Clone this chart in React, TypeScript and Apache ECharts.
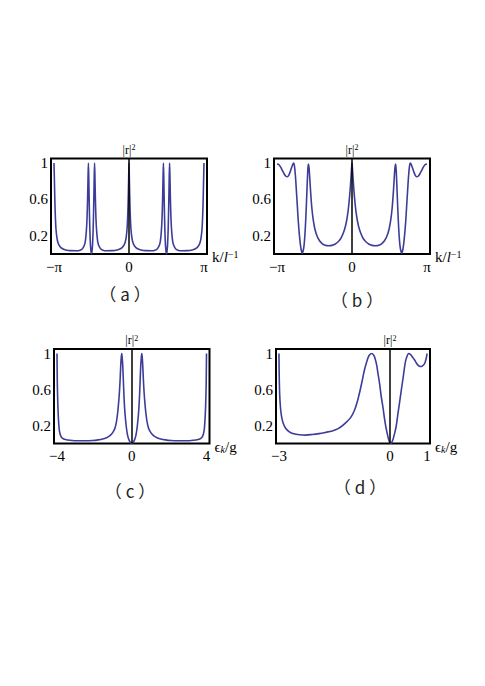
import React, { useEffect, useRef } from "react";
import * as echarts from "echarts";

const PI = Math.PI;

// ---- Data ----
// Panel (a): |r|^2 vs k (units l^-1)
const curveA: [number, number][] = [
  [-3.1416, 1.0], [-3.125, 0.82], [-3.11, 0.64], [-3.09, 0.45], [-3.06, 0.28], [-3.02, 0.18],
  [-2.97, 0.12], [-2.9, 0.085], [-2.8, 0.06], [-2.65, 0.045], [-2.45, 0.037], [-2.2, 0.036],
  [-2.05, 0.042], [-1.95, 0.058], [-1.88, 0.09], [-1.83, 0.14], [-1.79, 0.24], [-1.76, 0.38],
  [-1.735, 0.6], [-1.715, 0.85], [-1.7, 1.0], [-1.685, 0.85], [-1.665, 0.55], [-1.64, 0.27],
  [-1.615, 0.1], [-1.59, 0.025], [-1.571, 0.0], [-1.552, 0.025], [-1.527, 0.1], [-1.502, 0.27],
  [-1.477, 0.55], [-1.457, 0.85], [-1.442, 1.0], [-1.427, 0.85], [-1.407, 0.6], [-1.382, 0.38],
  [-1.352, 0.24], [-1.312, 0.14], [-1.262, 0.09], [-1.19, 0.058], [-1.09, 0.042], [-0.94, 0.036],
  [-0.7, 0.037], [-0.5, 0.045], [-0.34, 0.06], [-0.24, 0.085], [-0.17, 0.12], [-0.12, 0.18],
  [-0.08, 0.28], [-0.05, 0.45], [-0.03, 0.64], [-0.015, 0.82], [0, 1.0],
  [0.015, 0.82], [0.03, 0.64], [0.05, 0.45], [0.08, 0.28], [0.12, 0.18], [0.17, 0.12],
  [0.24, 0.085], [0.34, 0.06], [0.5, 0.045], [0.7, 0.037], [0.94, 0.036], [1.09, 0.042],
  [1.19, 0.058], [1.262, 0.09], [1.312, 0.14], [1.352, 0.24], [1.382, 0.38], [1.407, 0.6],
  [1.427, 0.85], [1.442, 1.0], [1.457, 0.85], [1.477, 0.55], [1.502, 0.27], [1.527, 0.1],
  [1.552, 0.025], [1.571, 0.0], [1.59, 0.025], [1.615, 0.1], [1.64, 0.27], [1.665, 0.55],
  [1.685, 0.85], [1.7, 1.0], [1.715, 0.85], [1.735, 0.6], [1.76, 0.38], [1.79, 0.24],
  [1.83, 0.14], [1.88, 0.09], [1.95, 0.058], [2.05, 0.042], [2.2, 0.036], [2.45, 0.037],
  [2.65, 0.045], [2.8, 0.06], [2.9, 0.085], [2.97, 0.12], [3.02, 0.18], [3.06, 0.28],
  [3.09, 0.45], [3.11, 0.64], [3.125, 0.82], [3.1416, 1.0],
];

// Panel (b)
const curveB: [number, number][] = [
  [-3.1416, 0.99], [-3.08, 0.985], [-3.0, 0.96], [-2.92, 0.92], [-2.84, 0.88], [-2.77, 0.855],
  [-2.71, 0.85], [-2.65, 0.865], [-2.58, 0.91], [-2.51, 0.965], [-2.45, 1.0], [-2.41, 0.97],
  [-2.37, 0.86], [-2.33, 0.7], [-2.29, 0.53], [-2.25, 0.36], [-2.2, 0.2], [-2.15, 0.08],
  [-2.11, 0.025], [-2.08, 0.01], [-2.05, 0.03], [-2.01, 0.09], [-1.97, 0.22], [-1.93, 0.42],
  [-1.89, 0.68], [-1.855, 0.9], [-1.83, 0.99], [-1.8, 0.95], [-1.77, 0.84], [-1.73, 0.67],
  [-1.68, 0.5], [-1.62, 0.37], [-1.55, 0.27], [-1.46, 0.195], [-1.36, 0.145], [-1.25, 0.115],
  [-1.12, 0.095], [-0.98, 0.09], [-0.84, 0.095], [-0.7, 0.11], [-0.58, 0.135], [-0.47, 0.17],
  [-0.38, 0.22], [-0.3, 0.28], [-0.23, 0.36], [-0.17, 0.46], [-0.12, 0.58], [-0.08, 0.7],
  [-0.045, 0.83], [-0.02, 0.93], [0, 1.0],
  [0.02, 0.93], [0.045, 0.83], [0.08, 0.7], [0.12, 0.58], [0.17, 0.46], [0.23, 0.36],
  [0.3, 0.28], [0.38, 0.22], [0.47, 0.17], [0.58, 0.135], [0.7, 0.11], [0.84, 0.095],
  [0.98, 0.09], [1.12, 0.095], [1.25, 0.115], [1.36, 0.145], [1.46, 0.195], [1.55, 0.27],
  [1.62, 0.37], [1.68, 0.5], [1.73, 0.67], [1.77, 0.84], [1.8, 0.95], [1.83, 0.99],
  [1.855, 0.9], [1.89, 0.68], [1.93, 0.42], [1.97, 0.22], [2.01, 0.09], [2.05, 0.03],
  [2.08, 0.01], [2.11, 0.025], [2.15, 0.08], [2.2, 0.2], [2.25, 0.36], [2.29, 0.53],
  [2.33, 0.7], [2.37, 0.86], [2.41, 0.97], [2.45, 1.0], [2.51, 0.965], [2.58, 0.91],
  [2.65, 0.865], [2.71, 0.85], [2.77, 0.855], [2.84, 0.88], [2.92, 0.92], [3.0, 0.96],
  [3.08, 0.985], [3.1416, 0.99],
];

// Panel (c): |r|^2 vs eps_k/g
const curveC: [number, number][] = [
  [-4.0, 1.0], [-3.99, 0.8], [-3.98, 0.64], [-3.96, 0.47], [-3.94, 0.35], [-3.91, 0.23],
  [-3.87, 0.14], [-3.8, 0.085], [-3.7, 0.058], [-3.55, 0.045], [-3.3, 0.036], [-2.9, 0.03],
  [-2.5, 0.03], [-2.1, 0.033], [-1.8, 0.04], [-1.55, 0.05], [-1.35, 0.065], [-1.2, 0.082],
  [-1.08, 0.105], [-0.98, 0.135], [-0.9, 0.17], [-0.82, 0.24], [-0.75, 0.35], [-0.7, 0.46],
  [-0.66, 0.57], [-0.62, 0.72], [-0.59, 0.86], [-0.56, 0.96], [-0.535, 1.0], [-0.51, 0.95],
  [-0.48, 0.86], [-0.44, 0.65], [-0.41, 0.5], [-0.36, 0.33], [-0.3, 0.2], [-0.24, 0.11],
  [-0.18, 0.057], [-0.1, 0.02], [0, 0.0],
  [0.1, 0.02], [0.18, 0.057], [0.24, 0.11], [0.3, 0.2], [0.36, 0.33], [0.41, 0.5],
  [0.44, 0.65], [0.48, 0.86], [0.51, 0.95], [0.535, 1.0], [0.56, 0.96], [0.59, 0.86],
  [0.62, 0.72], [0.66, 0.57], [0.7, 0.46], [0.75, 0.35], [0.82, 0.24], [0.9, 0.17],
  [0.98, 0.135], [1.08, 0.105], [1.2, 0.082], [1.35, 0.065], [1.55, 0.05], [1.8, 0.04],
  [2.1, 0.033], [2.5, 0.03], [2.9, 0.03], [3.3, 0.036], [3.55, 0.045], [3.7, 0.058],
  [3.8, 0.085], [3.87, 0.14], [3.91, 0.23], [3.94, 0.35], [3.96, 0.47], [3.98, 0.64],
  [3.99, 0.8], [4.0, 1.0],
];

// Panel (d)
const curveD: [number, number][] = [
  [-3.0, 1.0], [-2.995, 0.8], [-2.985, 0.6], [-2.97, 0.46], [-2.95, 0.36], [-2.92, 0.28],
  [-2.88, 0.22], [-2.82, 0.17], [-2.72, 0.13], [-2.6, 0.108], [-2.45, 0.097], [-2.28, 0.093],
  [-2.1, 0.1], [-1.92, 0.11], [-1.75, 0.123], [-1.56, 0.14], [-1.4, 0.165], [-1.28, 0.2],
  [-1.17, 0.24], [-1.06, 0.29], [-0.96, 0.37], [-0.88, 0.47], [-0.82, 0.57], [-0.75, 0.7],
  [-0.69, 0.82], [-0.62, 0.92], [-0.57, 0.975], [-0.5, 1.0], [-0.44, 0.98], [-0.4, 0.94],
  [-0.36, 0.87], [-0.33, 0.79], [-0.28, 0.66], [-0.24, 0.53], [-0.19, 0.4], [-0.15, 0.28],
  [-0.11, 0.18], [-0.075, 0.11], [-0.04, 0.05], [-0.01, 0.015], [0.02, 0.0], [0.05, 0.015],
  [0.08, 0.045], [0.11, 0.09], [0.14, 0.14], [0.17, 0.2], [0.21, 0.32], [0.26, 0.46],
  [0.3, 0.58], [0.35, 0.72], [0.39, 0.84], [0.42, 0.915], [0.46, 0.97], [0.5, 1.0],
  [0.55, 0.99], [0.6, 0.965], [0.66, 0.93], [0.71, 0.895], [0.77, 0.865], [0.82, 0.855],
  [0.87, 0.86], [0.93, 0.885], [0.96, 0.92], [0.985, 0.96], [1.0, 1.0],
];

const xTicksAB = [-PI, 0, PI];
const xTickLabelsAB = ["−π", "0", "π"];
const xTicksC = [-4, 0, 4];
const xTickLabelsC = ["−4", "0", "4"];
const xTicksD = [-3, 0, 1];
const xTickLabelsD = ["−3", "0", "1"];
const yTicks = [0.2, 0.6, 1];
const yTickLabels = ["0.2", "0.6", "1"];
const panelLetters = ["a", "b", "c", "d"];

// ---- Layout / styling ----
const SERIF = "'Liberation Serif', 'DejaVu Serif', serif";
const CJK = "'Noto Sans CJK SC', 'Noto Sans', sans-serif";
const LINE_COLOR = "#3d3d99";

const grids = [
  { left: 51, top: 158.5, width: 156, height: 95.5 },
  { left: 274, top: 158.5, width: 156, height: 95.5 },
  { left: 54, top: 349, width: 155.5, height: 94.5 },
  { left: 276, top: 349, width: 154, height: 94.5 },
];
const xRanges: [number, number][] = [
  [-3.267, 3.267],
  [-3.267, 3.267],
  [-4.16, 4.16],
  [-3.08, 1.08],
];
const labelPos = [
  [125, 293],
  [357, 299],
  [130, 490],
  [360, 486],
];

const kName = "{n|k/}{i|l}{s|−1}";
const eName = "{n|ϵ}{k|k}{n|/g}";

function lookup(vals: number[], labels: string[]) {
  return (v: number) => {
    for (let i = 0; i < vals.length; i++) {
      if (Math.abs(vals[i] - v) < 1e-6) return labels[i];
    }
    return "";
  };
}

export default function App() {
  const ref = useRef<HTMLDivElement>(null);

  useEffect(() => {
    if (!ref.current) return;
    const chart = echarts.init(ref.current, undefined, { renderer: "svg" });

    const curves = [curveA, curveB, curveC, curveD];
    const xTickSets = [xTicksAB, xTicksAB, xTicksC, xTicksD];
    const xLabelSets = [xTickLabelsAB, xTickLabelsAB, xTickLabelsC, xTickLabelsD];
    const names = [kName, kName, eName, eName];

    const nameRich = {
      n: { fontFamily: SERIF, fontSize: 15, color: "#000" },
      i: { fontFamily: SERIF, fontSize: 15, fontStyle: "italic", color: "#000" },
      s: { fontFamily: SERIF, fontSize: 10, color: "#000", verticalAlign: "top" },
      k: { fontFamily: SERIF, fontSize: 10, fontStyle: "italic", color: "#000", verticalAlign: "bottom" },
    };

    const option: any = {
      animation: false,
      backgroundColor: "#fff",
      color: [LINE_COLOR],
      grid: grids.map((g) => ({
        ...g,
        show: true,
        borderColor: "#000",
        borderWidth: 2,
        backgroundColor: "transparent",
        containLabel: false,
      })),
      xAxis: grids.map((_, i) => ({
        type: "value",
        gridIndex: i,
        min: xRanges[i][0],
        max: xRanges[i][1],
        axisLine: { show: false },
        axisTick: { show: false },
        splitLine: { show: false },
        axisLabel: {
          customValues: xTickSets[i],
          formatter: lookup(xTickSets[i], xLabelSets[i]),
          fontFamily: SERIF,
          fontSize: 15,
          color: "#000",
          margin: 5,
          showMinLabel: true,
          showMaxLabel: true,
        },
        name: names[i],
        nameLocation: "end",
        nameGap: 5,
        nameTextStyle: {
          align: "left",
          verticalAlign: "middle",
          padding: [6, 0, 0, 0],
          rich: nameRich,
        },
      })),
      yAxis: grids.map((_, i) => ({
        type: "value",
        gridIndex: i,
        min: 0,
        max: 1.05,
        axisLine: { show: false },
        axisTick: { show: false },
        splitLine: { show: false },
        axisLabel: {
          customValues: yTicks,
          formatter: lookup(yTicks, yTickLabels),
          fontFamily: SERIF,
          fontSize: 15,
          color: "#000",
          margin: 3,
        },
      })),
      series: curves.map((c, i) => ({
        type: "line",
        xAxisIndex: i,
        yAxisIndex: i,
        data: c,
        color: LINE_COLOR,
        showSymbol: false,
        symbol: "none",
        smooth: 0.3,
        lineStyle: { color: LINE_COLOR, width: 1.6 },
        silent: true,
        markLine: {
          silent: true,
          symbol: ["none", "none"],
          animation: false,
          itemStyle: { color: "#000" },
          lineStyle: { color: "#000", width: 1.5, type: "solid" },
          emphasis: { disabled: true },
          label: {
            show: true,
            position: "end",
            distance: 3,
            color: "#000",
            textBorderWidth: 0,
            formatter: "{a||r|}{s|2}",
            rich: {
              a: { fontFamily: SERIF, fontSize: 12, color: "#000" },
              s: { fontFamily: SERIF, fontSize: 8, color: "#000", verticalAlign: "top" },
            },
          },
          data: [{ xAxis: 0 }],
        },
      })),
      graphic: panelLetters.map((t, i) => ({
        type: "text",
        x: labelPos[i][0],
        y: labelPos[i][1],
        style: {
          text: "{p|（}{a|" + t + "}{p|）}",
          align: "center",
          verticalAlign: "middle",
          rich: {
            p: { fontFamily: CJK, fontSize: 17, fill: "#222" },
            a: { fontFamily: CJK, fontSize: 17, fill: "#222", padding: [0, 4, 0, 4] },
          },
        },
      })),
    };

    chart.setOption(option);
    return () => {
      chart.dispose();
    };
  }, []);

  return (
    <div
      ref={ref}
      style={{ position: "fixed", left: 0, top: 0, width: 485, height: 686, background: "#fff" }}
    />
  );
}
